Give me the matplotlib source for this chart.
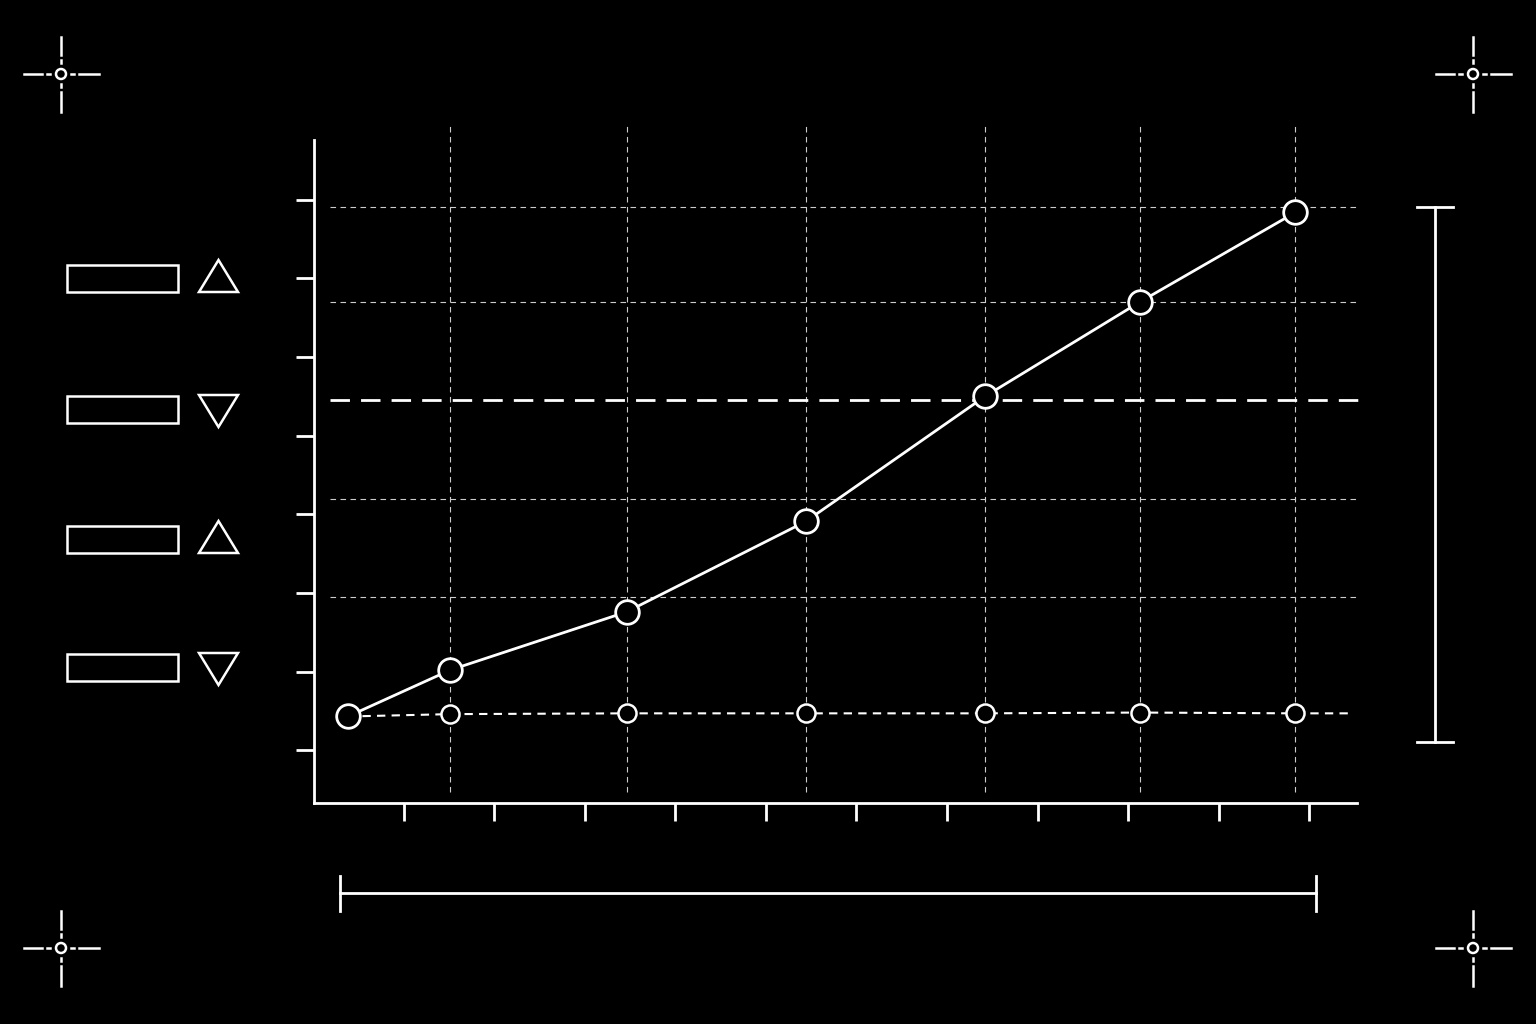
import matplotlib
matplotlib.use("Agg")
import matplotlib.pyplot as plt
from matplotlib.patches import Rectangle, Circle, Polygon

# data (arbitrary units)
x_main = [0.38, 1.51, 3.46, 5.44, 7.42, 9.13, 10.85]
y_main = [0.43, 1.02, 1.76, 2.91, 4.50, 5.70, 6.84]
x_base = [1.51, 3.46, 5.44, 7.42, 9.13, 10.85]
y_base = [0.46, 0.47, 0.47, 0.47, 0.48, 0.47]
y_threshold = 4.45
grid_y = [1.95, 3.19, 5.70, 6.91]
x_ticks = list(range(1, 12))
y_ticks = list(range(0, 8))
legend_up = [True, False, True, False]

W = 'white'
fig = plt.figure(figsize=(15.36, 10.24), dpi=100, facecolor='black')
ax = fig.add_axes([314/1536, 221/1024, 1043/1536, 663/1024], facecolor='black')
ax.set_xlim(0.006, 11.53)
ax.set_ylim(-0.67, 7.76)

for s in ['top', 'right']:
    ax.spines[s].set_visible(False)
for s in ['left', 'bottom']:
    ax.spines[s].set_color(W)
    ax.spines[s].set_linewidth(2)
ax.set_xticks(x_ticks)
ax.set_yticks(y_ticks)
ax.set_xticklabels([])
ax.set_yticklabels([])
ax.tick_params(colors=W, width=2, length=13, direction='out')

# grid
ax.vlines(x_main[1:], -0.53, 7.95, colors='#cccccc', lw=0.8, linestyles=(0, (5, 4)), clip_on=False)
ax.hlines(grid_y, 0.18, 11.54, colors='#cccccc', lw=0.8, linestyles=(0, (5, 4)), clip_on=False)
ax.hlines(y_threshold, 0.18, 11.54, colors=W, lw=2, linestyles=(0, (7, 4)), clip_on=False)

# baseline series
ax.plot([x_main[0]] + x_base + [11.43], [y_main[0]] + y_base + [y_base[-1]], color=W, lw=1.5,
        linestyle=(0, (4, 3)))
ax.plot(x_base, y_base, 'o', ms=13, mfc='black', mec=W, mew=1.8, zorder=5)

# main series
ax.plot(x_main, y_main, color=W, lw=2, zorder=4)
ax.plot(x_main, y_main, 'o', ms=17, mfc='black', mec=W, mew=2, zorder=6)

# brackets
ax.plot([12.39, 12.39], [0.11, 6.91], color=W, lw=2, clip_on=False)
ax.plot([12.19, 12.59], [6.91, 6.91], color=W, lw=2, clip_on=False)
ax.plot([12.19, 12.59], [0.11, 0.11], color=W, lw=2, clip_on=False)
ax.plot([0.29, 11.08], [-1.82, -1.82], color=W, lw=2, clip_on=False)
ax.plot([0.29, 0.29], [-1.6, -2.04], color=W, lw=2, clip_on=False)
ax.plot([11.08, 11.08], [-1.6, -2.04], color=W, lw=2, clip_on=False)

# overlay in pixel space for decorations
ov = fig.add_axes([0, 0, 1, 1], facecolor='none')
ov.set_xlim(0, 1536)
ov.set_ylim(1024, 0)
ov.axis('off')

for i, up in enumerate(legend_up):
    cy = [278, 409, 539, 667][i]
    ov.add_patch(Rectangle((67, cy - 13), 111, 27, fill=False, ec=W, lw=1.8))
    if up:
        pts = [(199, cy + 14), (238, cy + 14), (218.5, cy - 18)]
    else:
        pts = [(199, cy - 14), (238, cy - 14), (218.5, cy + 18)]
    ov.add_patch(Polygon(pts, closed=True, fill=False, ec=W, lw=1.8))

for cx, cy in [(61, 74), (1473, 74), (61, 948), (1473, 948)]:
    ov.add_patch(Circle((cx, cy), 5, fill=False, ec=W, lw=1.8))
    for a, b in [(-37, -19), (-14, -11), (10, 13), (18, 38)]:
        ov.plot([cx + a, cx + b], [cy, cy], color=W, lw=1.8)
        ov.plot([cx, cx], [cy + a, cy + b], color=W, lw=1.8)

fig.savefig('out.png', dpi=100, facecolor='black')
